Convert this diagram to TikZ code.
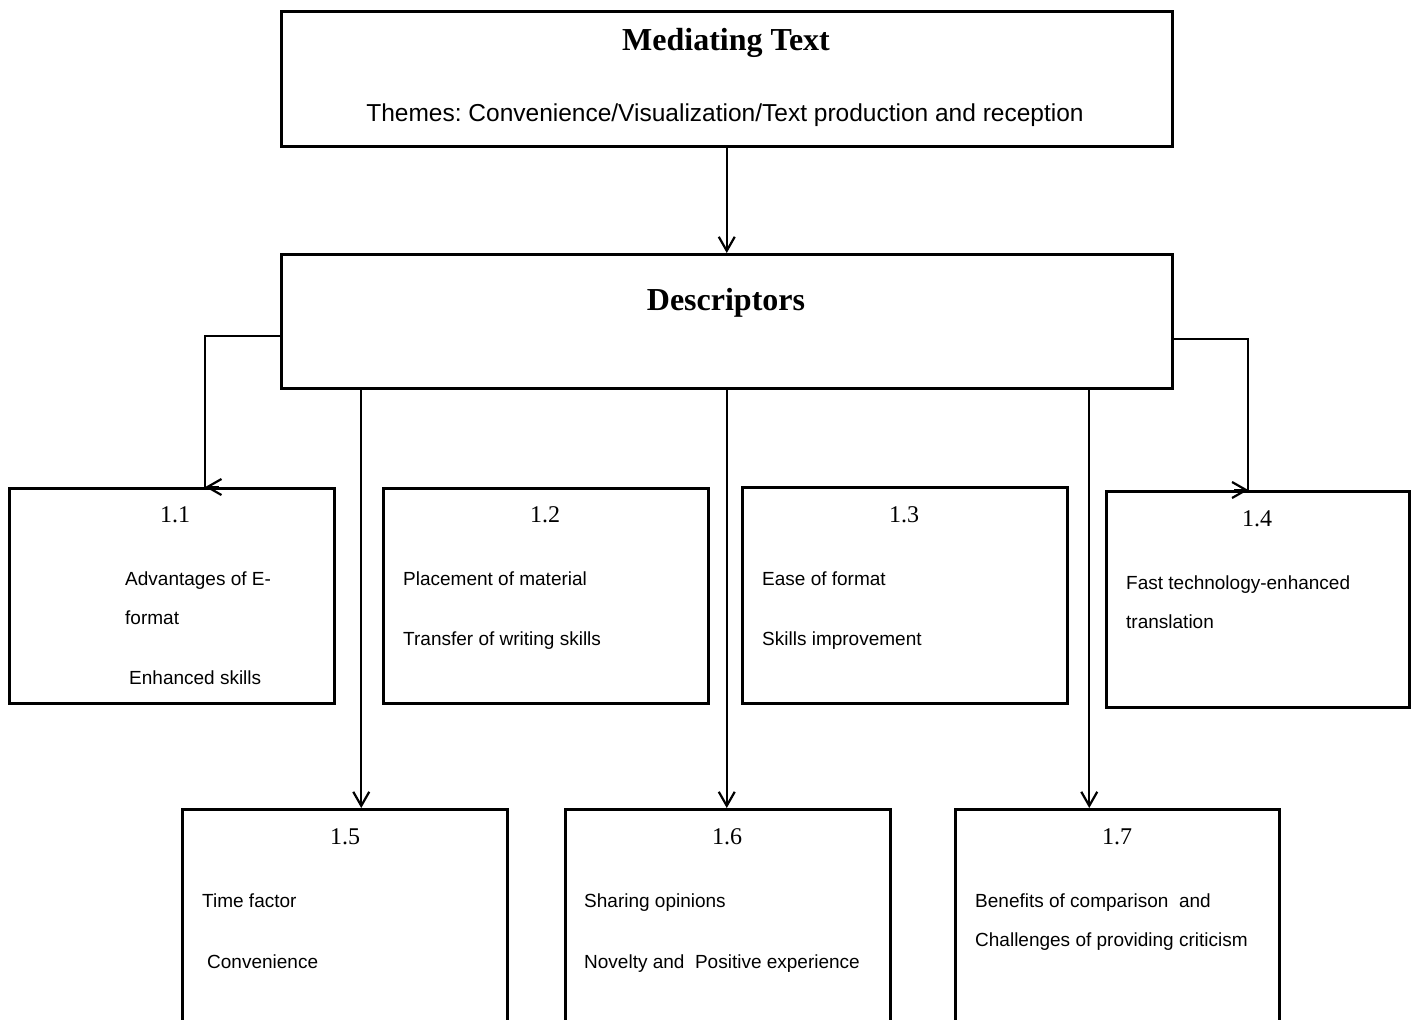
\documentclass[tikz,border=0pt]{standalone}
\usepackage{fontspec}
\setmainfont{Liberation Serif}
\setsansfont{Liberation Sans}
\usetikzlibrary{arrows.meta}
\frenchspacing
\begin{document}
\begin{tikzpicture}[x=1pt,y=-1pt,
  box/.style={draw, line width=2.5pt, rectangle, inner sep=0pt, anchor=north west},
  link/.style={line width=2.2pt},
  arr/.style={line width=2.2pt, -{Straight Barb[length=14pt,width=16pt,line width=2.2pt]}},
  head/.style={font=\bfseries\fontsize{32}{36}\selectfont},
  num/.style={font=\fontsize{24}{28}\selectfont},
  theme/.style={font=\sffamily\fontsize{24.5}{28}\selectfont},
  item/.style={font=\sffamily\fontsize{19}{23}\selectfont, anchor=mid west, inner sep=0pt}
]
\useasboundingbox (0,0) rectangle (1414,1020);
\fill[white] (0,0) rectangle (1414,1020);
\clip (0,0) rectangle (1414,1020);

% top box
\node[box, minimum width=891pt, minimum height=135pt] (top) at (280,10) {};
\node[head] (toptitle) at (726,43) {Mediating Text};
\node[theme] (themes) at (725,115) {Themes: Convenience/Visualization/Text production and reception};

% descriptors box
\node[box, minimum width=891pt, minimum height=134pt] (desc) at (280,253) {};
\node[head] (desctitle) at (726,303) {Descriptors};

% first row
\node[box, minimum width=325pt, minimum height=215pt] (b11) at (8,487) {};
\node[num] (n11) at (175,515) {1.1};
\node[item] (t11a) at (125,583) {Advantages of E-};
\node[item] (t11b) at (125,622) {format};
\node[item] (t11c) at (129,682) {Enhanced skills};

\node[box, minimum width=325pt, minimum height=215pt] (b12) at (382,487) {};
\node[num] (n12) at (545,515) {1.2};
\node[item] (t12a) at (403,583) {Placement of material};
\node[item] (t12b) at (403,643) {Transfer of writing skills};

\node[box, minimum width=325pt, minimum height=216pt] (b13) at (741,486) {};
\node[num] (n13) at (904,515) {1.3};
\node[item] (t13a) at (762,583) {Ease of format};
\node[item] (t13b) at (762,643) {Skills improvement};

\node[box, minimum width=303pt, minimum height=216pt] (b14) at (1105,490) {};
\node[num] (n14) at (1257,519) {1.4};
\node[item] (t14a) at (1126,587) {Fast technology-enhanced};
\node[item] (t14b) at (1126,626) {translation};

% second row (continues below the lower edge)
\node[box, minimum width=325pt, minimum height=240pt] (b15) at (181,808) {};
\node[num] (n15) at (345,837) {1.5};
\node[item] (t15a) at (202,905) {Time factor};
\node[item] (t15b) at (207,966) {Convenience};

\node[box, minimum width=325pt, minimum height=240pt] (b16) at (564,808) {};
\node[num] (n16) at (727,837) {1.6};
\node[item] (t16a) at (584,905) {Sharing opinions};
\node[item] (t16b) at (584,966) {Novelty and\ \ Positive experience};

\node[box, minimum width=324pt, minimum height=240pt] (b17) at (954,808) {};
\node[num] (n17) at (1117,837) {1.7};
\node[item] (t17a) at (975,905) {Benefits of comparison\ \ and};
\node[item] (t17b) at (975,944) {Challenges of providing criticism};

% connectors
\draw[arr] (top) -- (desc);

\coordinate (e11) at ([xshift=33.5pt]b11.north);
\draw[link] ([yshift=-15pt]desc.west) -| (e11);
\draw[arr] ([xshift=14pt]e11) -- (e11);

\coordinate (e14) at ([xshift=-9.5pt]b14.north);
\draw[link] ([yshift=-18pt]desc.east) -| (e14);
\draw[arr] ([xshift=-14pt]e14) -- (e14);

\draw[arr] ([xshift=-365.5pt]desc.south) -- ([xshift=-365.5pt]desc.south |- b15.north);
\draw[arr] (desc.south) -- (desc.south |- b16.north);
\draw[arr] ([xshift=362.5pt]desc.south) -- ([xshift=362.5pt]desc.south |- b17.north);
\end{tikzpicture}
\end{document}
